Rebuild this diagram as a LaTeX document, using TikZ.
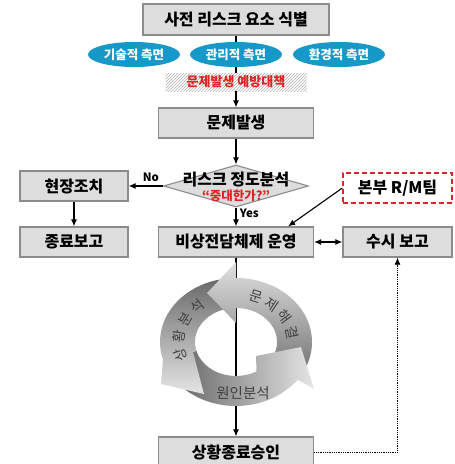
\documentclass[tikz,border=0pt]{standalone}
\usepackage{fontspec}
\setmainfont{Noto Sans CJK KR}
\usepackage{tikz}
\usetikzlibrary{arrows.meta}
\usetikzlibrary{shapes.geometric,patterns,decorations.text}

\definecolor{ellblue}{RGB}{22,152,200}
\definecolor{boxgray}{RGB}{221,221,221}
\definecolor{linegray}{RGB}{140,140,140}
\definecolor{warnred}{RGB}{222,36,36}

\begin{document}
\begin{tikzpicture}[x=1pt, y=-1pt, >={Latex[length=7pt,width=6pt]},
        procbox/.style={draw=linegray, line width=1.3pt, fill=boxgray,
                minimum width=155pt, minimum height=30pt, inner sep=0pt,
                font=\fontsize{16}{16}\selectfont\bfseries},
        sidebox/.style={procbox, minimum width=109pt},
        facetell/.style={ellipse, fill=ellblue, text=white, inner sep=0pt,
                minimum width=92pt, minimum height=25pt,
                font=\fontsize{12.5}{12.5}\selectfont\bfseries},
        prevent/.style={fill=white, postaction={pattern=north east lines, pattern color=black!30},
                minimum width=141pt, minimum height=18pt, inner sep=0pt, text=warnred,
                font=\fontsize{13}{13}\selectfont\bfseries},
        decide/.style={diamond, draw=linegray, line width=1.1pt, fill=boxgray,
                minimum width=145pt, minimum height=42pt, inner sep=0pt},
        conn/.style={line width=1.1pt, black},
        small/.style={font=\fontsize{11.5}{11.5}\selectfont\bfseries},
        cyctxt/.style={text=black!75, font=\fontsize{14.5}{14.5}\selectfont},
        arctxt/.style={decorate, decoration={text along path, text align=center,
                text={|\fontsize{14}{14}\selectfont\color{black!75}|#1}}}]

        \useasboundingbox (0,0) rectangle (455,464);

        \node[procbox, minimum width=186pt, minimum height=31pt] (ident) at (236,19.5) {사전 리스크 요소 식별};
        \node[facetell] (tech) at (134,54.5) {기술적 측면};
        \node[facetell] (mgmt) at (236,54.5) {관리적 측면};
        \node[facetell] (env) at (339,54.5) {환경적 측면};
        \node[prevent] (prev) at (236,82) {문제발생 예방대책};
        \node[procbox] (occur) at (236,123) {문제발생};

        \node[decide] (risk) at (236,186) {};
        \node[align=center, font=\fontsize{16}{15}\selectfont\bfseries] (risktxt) at (236,187)
                {리스크 정도분석\\{\color{warnred}\fontsize{12.5}{12.5}\selectfont “중대한가?”}};

        \node[procbox, minimum width=108pt] (site) at (74,186) {현장조치};
        \node[procbox, minimum width=108pt] (endrep) at (74,242) {종료보고};
        \node[procbox] (emerg) at (236,242) {비상전담체제 운영};
        \node[sidebox, draw=warnred, fill=white, dash pattern=on 5pt off 3pt] (rm) at (397.5,188) {본부 R/M팀};
        \node[sidebox] (report) at (397.5,242) {수시 보고};
        \node[procbox] (final) at (236,452) {상황종료승인};

        \draw[conn] (ident) -- (mgmt);
        \draw[conn] (mgmt) -- (prev);
        \draw[conn, ->] (prev) -- (occur);
        \draw[conn, ->] (occur) -- (risk);
        \draw[conn, ->] (risk.west) -- node[above, pos=0.35, small] {No} (site);
        \draw[conn, ->] (site) -- (endrep);
        \draw[conn, ->] (risk.south) -- node[right, pos=0.3, small] {Yes} (emerg);
        \draw[conn, ->] (rm.west) -- ([xshift=-26pt]emerg.north east);
        \draw[conn, <->] (emerg) -- (report);
        \draw[conn, ->] (emerg) -- (final);
        \draw[line width=0.8pt, densely dotted, ->] (final.east) -| (report.south);

        \begin{scope}[shift={(236,342)}]
          \shade[bottom color=black!58, top color=black!12]
            (40:76 and 64) arc[start angle=40, end angle=-90, x radius=76, y radius=64]
            -- (0,-80) -- (-29,-49) -- (0,-19)
            -- (-90:41 and 34) arc[start angle=-90, end angle=40, x radius=41, y radius=34] -- cycle;
          \shade[left color=black!62, right color=black!10]
            (150:76 and 64) arc[start angle=150, end angle=36, x radius=76, y radius=64]
            -- (78,47) -- (65,5) -- (20,14)
            -- (60:41 and 34) arc[start angle=60, end angle=165, x radius=41, y radius=34]
            -- (-43,10) -- cycle;
          \shade[top color=black!58, bottom color=black!10]
            (-102.5:76 and 64) arc[start angle=-102.5, end angle=-196, x radius=76, y radius=64]
            -- (-75,42) -- (-32,52) -- (-43,10)
            -- (-195:41 and 34) arc[start angle=-195, end angle=-108.3, x radius=41, y radius=34]
            -- (-29,-49) -- cycle;
          \path[arctxt=상 황 분 석] (145:52 and 43) arc[start angle=145, end angle=245, x radius=52, y radius=43];
          \path[arctxt=문 제 해 결] (-88:52 and 43) arc[start angle=-88, end angle=12, x radius=52, y radius=43];
        \end{scope}

        \node[cyctxt] (cause) at (243,393) {원인분석};
      \end{tikzpicture}
\end{document}
